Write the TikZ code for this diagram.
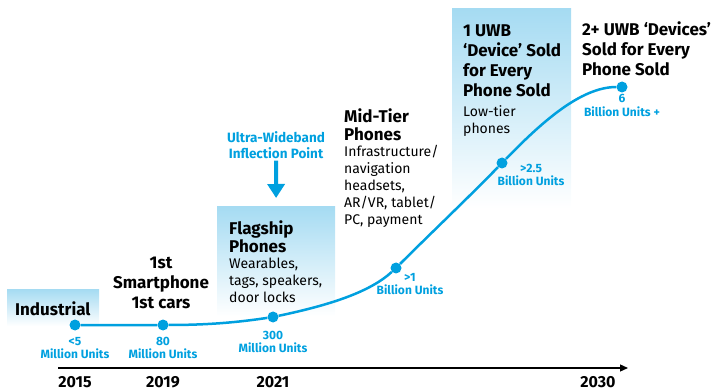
\documentclass[tikz,border=0pt]{standalone}
\usepackage{fontspec}
\setmainfont{Fira Sans}
\usetikzlibrary{arrows.meta}
\definecolor{uwbblue}{RGB}{0,160,223}
\definecolor{boxblue}{RGB}{165,219,242}
\tikzset{
    shadebox/.style={rectangle, inner sep=0, anchor=north west, top color=boxblue, bottom color=white},
    head/.style={inner sep=0, align=left, anchor=north west, font=\bfseries\fontsize{17}{18}\selectfont},
    headwide/.style={head, font=\bfseries\fontsize{17}{20}\selectfont},
    body/.style={inner sep=0, align=left, anchor=north west, font=\fontsize{14}{17}\selectfont},
    unit/.style={inner sep=0, align=center, anchor=north, text=uwbblue, font=\bfseries\fontsize{12}{13}\selectfont},
    year/.style={inner sep=0, anchor=base, font=\bfseries\fontsize{16}{17}\selectfont},
    dot/.style={circle, fill=uwbblue, inner sep=0, minimum size=11pt}
}
\begin{document}
\begin{tikzpicture}[x=1pt, y=-1pt]
    \useasboundingbox (0,0) rectangle (718,390);
    % shaded boxes
    \node[shadebox, minimum width=92pt, minimum height=37pt] (indbox) at (7,289) {};
    \node[shadebox, minimum width=118pt, minimum height=110pt] (flagbox) at (217,206) {};
    \node[shadebox, minimum width=119pt, minimum height=200pt] (uwbbox) at (452,8) {};
    % time axis
    \coordinate (axstart) at (58,368);
    \coordinate (axend) at (628,368);
    \draw[line width=1.3pt, -{Triangle[length=8pt, width=7pt]}] (axstart) -- (axend);
    \node[year] (y15) at (75,387) {2015};
    \node[year] (y19) at (163,387) {2019};
    \node[year] (y21) at (273,387) {2021};
    \node[year] (y30) at (598,387) {2030};
    % growth curve
    \node[dot] (d1) at (75,325) {};
    \node[dot] (d2) at (163,325) {};
    \node[dot] (d3) at (273,317) {};
    \node[dot] (d4) at (396,268) {};
    \node[dot] (d5) at (502,163) {};
    \node[dot] (d6) at (622,87) {};
    \draw[uwbblue, line width=2.5pt] (d1) -- (d2)
        .. controls (210,325) and (240,322) .. (d3)
        .. controls (330,305) and (370,292) .. (d4)
        .. controls (430,234) and (470,196) .. (d5)
        .. controls (540,124) and (580,87) .. (d6);
    % unit labels
    \node[unit] (u1) at (75,337) {<5\\Million Units};
    \node[unit] (u2) at (163,337) {80\\Million Units};
    \node[unit] (u3) at (273,331) {300\\Million Units};
    \node[unit] (u4) at (410,273) {>1\\Billion Units};
    \node[unit] (u5) at (531,164) {>2.5\\Billion Units};
    \node[unit, font=\bfseries\fontsize{12}{14.5}\selectfont] (u6) at (622,94) {6\\Billion Units +};
    % stage texts
    \node[head] (industrial) at (15,302) {Industrial};
    \node[headwide, align=center, anchor=north] (smart) at (161,257) {1st\\Smartphone\\1st cars};
    \node[head] (flag) at (229,221) {Flagship\\Phones};
    \node[body] (flagtxt) at (229,258) {Wearables,\\tags, speakers,\\door locks};
    \node[head] (mid) at (344,109) {Mid-Tier\\Phones};
    \node[body] (midtxt) at (344,145) {Infrastructure/\\navigation\\headsets,\\AR/VR, tablet/\\PC, payment};
    \node[headwide] (one) at (463,25) {1 UWB\\‘Device’ Sold\\for Every\\Phone Sold};
    \node[body] (onetxt) at (463,105) {Low-tier\\phones};
    \node[headwide] (two) at (582,22) {2+ UWB ‘Devices’\\Sold for Every\\Phone Sold};
    % inflection marker
    \node[unit, font=\bfseries\fontsize{13.5}{16}\selectfont] (uwb) at (276,131) {Ultra-Wideband\\Inflection Point};
    \draw[uwbblue, line width=4pt, -{Triangle[length=14pt, width=17pt]}, shorten <=2pt, shorten >=8pt] (uwb) -- (flagbox);
\end{tikzpicture}
\end{document}
